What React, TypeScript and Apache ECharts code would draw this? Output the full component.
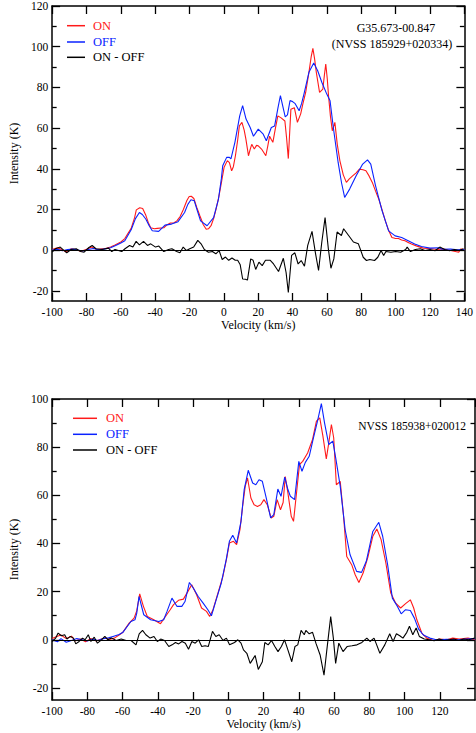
import React, { useEffect, useRef } from "react";
import * as echarts from "echarts";

// ---------------- data (velocity km/s, intensity K) ----------------
const topOn: [number, number][] = [
  [-100, 0.3], [-97, 1.2], [-95, 0.5], [-92, -0.8], [-89, 0.6], [-86, 0.2], [-83, -0.6], [-80, 0.4], [-77, 1.5], [-74, 0.3],
  [-71, 0.6], [-69, 0.8], [-66, 1.5], [-63.4, 2.5], [-60, 4], [-57.7, 5.7], [-54, 10.7], [-52, 16], [-51, 19.8], [-49, 20.8],
  [-47.3, 20.5], [-45.4, 17], [-44, 13.5], [-42.6, 11], [-40.5, 10.5], [-38.8, 10.7], [-35, 11], [-33, 12.5], [-31.2, 13.3],
  [-29, 13.5], [-27.4, 14.4], [-25.5, 16.5], [-23.6, 20], [-21.5, 24.5], [-20.2, 26.4], [-19, 26.5], [-17.5, 25.4], [-15.8, 21],
  [-14, 16.9], [-12, 12.5], [-10.3, 10.3], [-9, 10.5], [-7.5, 12], [-6, 15.5], [-4.6, 20], [-3, 26], [-1.8, 31.6], [0.1, 40.7],
  [2, 44], [3.2, 43], [4.5, 39], [5.5, 41], [6.7, 46.4], [8, 54], [9, 61.1], [10.5, 62.8], [11.8, 59], [12.8, 54.6], [14.3, 46.4],
  [15.3, 49.5], [16.2, 52], [17.7, 49.7], [19, 51.5], [20, 51.3], [21.9, 49.7], [23.2, 48], [24.4, 46.4], [25.5, 51], [26.6, 56],
  [27.5, 54.5], [28.5, 53], [30, 60], [31.4, 66], [33.3, 65], [35.5, 63.5], [36.5, 55], [37.5, 45], [38.3, 58], [39, 69.3],
  [41, 70], [42.8, 62.8], [44.7, 67], [46, 72], [47.6, 77.5], [49.5, 87.4], [50.8, 95], [51.8, 99.2], [52.8, 94], [53.8, 87.4],
  [55.7, 77.5], [57.6, 79.2], [58.5, 86], [59.3, 91.5], [60.2, 84], [60.9, 76], [62, 66], [63.1, 58.7], [64.6, 62.8], [66, 52],
  [67.5, 44], [69.5, 37], [71.3, 33.3], [73, 35], [75.1, 36.6], [77, 38], [78.9, 39.8], [81, 39.5], [82.7, 39], [84.5, 36.5],
  [86.4, 33.3], [88.3, 29], [90.2, 25], [92, 20], [94, 14.4], [96, 9.5], [97.8, 6.2], [99.5, 5.8], [101.6, 5.7], [103.5, 5],
  [105.4, 4.6], [107.3, 3.8], [109.2, 3], [112, 2.1], [116, 1], [120, 0.8], [124, 0.3], [128, 0.6], [132, -0.2], [136.7, -1],
  [138, 0.6], [140, 0.3],
];

const topOff: [number, number][] = [
  [-100, 0], [-97, 0.4], [-94, -0.3], [-91, 0.3], [-88, 0.5], [-85, 0], [-82, -0.4], [-79, 0.3], [-76, 0.8], [-73, 0.2],
  [-70, 0.5], [-66, 1.2], [-63, 2.3], [-60, 3.5], [-57.7, 4.6], [-54, 10], [-51.5, 15.5], [-49.2, 18.5], [-47.5, 17.5],
  [-45.4, 15.2], [-43.5, 12], [-41.7, 9.5], [-38, 9.2], [-34.3, 12.3], [-30.5, 12.8], [-26.7, 14], [-22.9, 18.5], [-21, 22.5],
  [-19.2, 24.8], [-17.3, 24.3], [-15.5, 19.5], [-13.6, 14.4], [-9.8, 12], [-6, 16], [-3.2, 25], [-1.5, 35], [-0.7, 41.5],
  [1.6, 45.6], [3.2, 45.6], [4.1, 44.8], [6.4, 53], [9.2, 66], [10.9, 71], [12.9, 64.4], [15.3, 60.3], [17.2, 56], [20, 59.5],
  [22.9, 57], [24.7, 53.8], [27.6, 60.3], [29.5, 61], [31.5, 70], [32.9, 76], [34.2, 71], [35.7, 65.5], [37, 66.5], [38.5, 73.5],
  [40, 73], [41.5, 72], [43.8, 68.5], [45.2, 72], [46.6, 76.7], [49.5, 87.4], [52.3, 92], [54.6, 88.2], [57, 82.5], [59.9, 76.7],
  [61.8, 73.4], [63.7, 60.3], [66.5, 43.1], [68.5, 33], [70.3, 25.9], [73.2, 30], [77, 36.6], [80.8, 42.3], [83.6, 44.4],
  [85.5, 42.3], [88.3, 31.6], [92.1, 19.3], [95.9, 9.5], [99.7, 7], [103.5, 6.2], [107.3, 4.6], [111.1, 3], [115, 1.8],
  [120, 1], [125, 1.2], [127, 0.4], [132, 0.5], [136, 0.2], [140, 0.3],
];

const topDiff: [number, number][] = [
  [-100, -1], [-98, 0.7], [-95.3, 1.5], [-93, -0.2], [-91.5, -1.3], [-89, 0.3], [-86, 0.7], [-83.5, -0.7], [-81.4, -1],
  [-78.6, 1.3], [-76.7, 2.3], [-74.5, 0.7], [-71, 0.3], [-67.2, 1], [-65.3, -0.7], [-63.4, 0.3], [-59.5, -0.7], [-57.6, 0.7],
  [-54.9, 2.3], [-53, 1.5], [-51.1, 4.3], [-49.2, 2.6], [-46.8, 4.3], [-44.5, 2.3], [-42.6, 3.1], [-39.8, 1.5], [-37.9, 2],
  [-35, -0.7], [-32.2, 0.3], [-30.3, 0.7], [-27.5, -0.7], [-25.6, -1.3], [-23.7, 1.5], [-21.8, -0.2], [-19.9, 0.7], [-17.6, 1.5],
  [-15.2, 4.8], [-13.3, 3.1], [-11.4, 0.3], [-9, -1], [-6.7, -0.7], [-4.7, -1.8], [-2.8, -0.2], [-1, -4.6], [0.9, -3.4],
  [2.8, -5], [4.7, -3.9], [6.6, -5], [8, -5], [9.5, -7.2], [10.9, -14.2], [12.5, -14.3], [13.7, -14.7], [15.6, -4.3], [17, -5],
  [18.5, -9.5], [20.4, -5.9], [22.3, -7.6], [24.2, -5], [27, -5], [28.9, -6.8], [31.8, -10.5], [34.6, -4], [36.2, -11],
  [37.5, -20.8], [39.4, -2.6], [41.3, -1.3], [43.2, -6.8], [45, -5.1], [46.9, -7.9], [48.8, 2.3], [51.3, 9.2], [53.2, -1],
  [55.1, -10], [57, 4], [58.9, 16], [60.8, 0.7], [62.3, -8.9], [64, -4.3], [65.9, 8.9], [68.4, 7.2], [69.7, 10.5], [72.6, 7.2],
  [75.4, 4], [78.3, 3.1], [81.1, -3.5], [83, -5.1], [84.9, -4.6], [87.7, -5.1], [89.6, -3.5], [91.5, -0.2], [93, -2.6],
  [94.3, -0.7], [97.2, -1], [100, -0.7], [102.9, -1], [105.8, 0.3], [106.7, 1.5], [108.6, -0.7], [111.5, 0.3], [114.3, 0.7],
  [117.1, -0.2], [120, 0.3], [122.9, -0.3], [125.7, 1.5], [128.5, 0.3], [131.4, -0.3], [134.2, 0.3], [137, -0.2], [139.5, 0.7],
];

const botOn: [number, number][] = [
  [-100, 0.5], [-97, 1.5], [-95, 2], [-92, 0.5], [-89, 1.5], [-87, -0.5], [-84, 0.3], [-81, -0.8], [-78, 0.5], [-75, -0.5],
  [-72, 0.3], [-70.3, 0.7], [-67, 0.2], [-64.7, 0.7], [-62, 2], [-60, 3], [-56.3, 6.9], [-53.5, 9], [-52, 12], [-50.3, 19.1],
  [-48.2, 13.9], [-46, 9.7], [-42.3, 8.3], [-38.5, 6.7], [-35.7, 9.7], [-33, 12.5], [-31.1, 14.6], [-28.3, 16.4], [-25.5, 16.9],
  [-23, 20], [-20.8, 22.9], [-18, 18.7], [-15.2, 13.2], [-12.4, 11.8], [-10.6, 9.7], [-8.7, 12.5], [-5.9, 19.4], [-3.1, 26.3],
  [-0.9, 34], [0.6, 40.2], [2.9, 40.9], [4.7, 39.5], [6.6, 45.7], [8.1, 55.4], [9.6, 63.8], [10.9, 67.2], [12.8, 58.9],
  [14.6, 56.1], [16.5, 55.4], [18.4, 56.1], [20.2, 58.2], [22.1, 56.1], [24.3, 50.6], [25.8, 51.3], [27.7, 58.2], [29.6, 54],
  [31.1, 57], [32.3, 67.8], [33.8, 61], [35.7, 51.3], [37, 49.2], [38.9, 62.4], [40.4, 72.8], [42.2, 74.1], [45, 77.6],
  [47.8, 83.2], [50, 90.8], [51.9, 92.2], [53.7, 84.5], [55.6, 75.1], [57, 81.8], [58.5, 89.4], [59.8, 83.9], [61.3, 64.4],
  [63.5, 65.8], [65.4, 51.3], [67.2, 34.6], [70, 31.2], [72, 27], [74.1, 23.8], [76.5, 27.7], [79.3, 34.6], [82, 43],
  [84.3, 46], [86.7, 41.6], [89.4, 31.9], [92.2, 19.4], [95, 15.2], [97.8, 13.2], [100.6, 15], [103.3, 16.6], [105.2, 13.2],
  [107, 8.3], [109.8, 2.8], [112.6, 0.7], [116.3, -0.3], [120, 0.3], [124, 0], [127.4, 0.7], [131, 0.3], [136, 0.7], [140, 0],
];

const botOff: [number, number][] = [
  [-100, 0], [-97, -0.8], [-95, 0.5], [-92, -1], [-89, -0.3], [-86, 0.5], [-83, 0], [-80, -0.5], [-77, 0.3], [-74, -0.3],
  [-71, 0.5], [-68, 0.8], [-65, 1.5], [-62, 2.2], [-60, 3], [-55.3, 7.6], [-53, 8.3], [-52, 11], [-50.7, 18], [-48, 10.4],
  [-44.1, 8.3], [-39.5, 7.6], [-36.7, 8.3], [-34.8, 11.8], [-32, 17.3], [-29.2, 13.9], [-26.4, 13.9], [-24.6, 15.9],
  [-22.1, 23.8], [-19.9, 21.5], [-17.1, 18], [-14.3, 15.2], [-11.6, 12.5], [-9.6, 10], [-6.9, 16.6], [-4, 23.6], [-1.2, 33.3],
  [0.6, 40.9], [2.5, 43.4], [4.7, 40.2], [7.2, 49.2], [9, 62.4], [11.3, 70.4], [13.8, 65.1], [15.6, 64.4], [17.4, 66.5],
  [19.3, 65.8], [21.5, 58.9], [24, 50.6], [25.8, 52], [28.1, 62.6], [29.9, 59.6], [32, 67.6], [33.8, 62.4], [35.2, 59.6],
  [37.6, 58.2], [40, 74.1], [41.8, 70], [43.7, 73.7], [45.9, 76.2], [48.1, 83.2], [50.6, 90.8], [52.8, 98.1], [54.6, 90.1],
  [57, 81.1], [59.3, 82.5], [61.1, 74.8], [63.5, 63.8], [66.3, 45.7], [69.1, 35.3], [72.8, 28.4], [75.6, 28], [78.3, 32.6],
  [82, 45], [85.4, 48.8], [87.6, 43], [90.4, 31.2], [93.1, 17.3], [95.9, 13.9], [98.1, 10.8], [100.6, 12.5], [103.3, 12.2],
  [105.6, 9], [108, 4.4], [110.7, 2], [114.4, 0.7], [118, 0], [124, 0.2], [130, 0], [135, 0.3], [140, 0.5],
];

const botDiff: [number, number][] = [
  [-100, -0.7], [-98, 0.7], [-96.6, 2.8], [-94.8, 1.7], [-92.9, 2.1], [-91.6, 0.3], [-89.7, 1.4], [-87.9, 0.7], [-86.6, -1.7],
  [-84.7, -0.7], [-82.8, 0.7], [-81.3, 0], [-79.5, 2.1], [-78, -0.7], [-76.1, 1.1], [-74.3, -1.4], [-72, 0], [-70.1, 1.4],
  [-68.3, 0], [-66.4, 0.7], [-63.6, -0.3], [-60.8, 0.3], [-58, -0.3], [-55.2, -0.3], [-52.4, -2.1], [-50.6, 2.5], [-48.7, 3.9],
  [-46.8, 2.1], [-44.4, 0.7], [-42.2, 1.4], [-40.3, -0.7], [-38.4, 0.3], [-36.2, -0.3], [-33.8, -2.8], [-31.9, -2.1], [-30, -1.1],
  [-28.2, -1.7], [-26.3, -0.7], [-24.4, -1.4], [-22.6, -3.9], [-20.7, -0.7], [-18.8, -1.4], [-16.9, 0], [-15.1, -2.8],
  [-13.2, -2.5], [-11.4, -2.8], [-9, 3.5], [-7.1, 1.4], [-5.2, 2.1], [-3, -0.3], [-1.1, 0.7], [0.7, -2.1], [3.5, -1.1],
  [5.4, 0], [7.2, -1.4], [8.6, -4.2], [10.5, -5.6], [12.4, -9.8], [14.2, -7.7], [15.2, -6.5], [17, -12.3], [19.3, -9.1],
  [20.7, -1.1], [22.6, -2.1], [24.5, -0.3], [26.4, -2.8], [28.2, -4.9], [30.1, -2.8], [31.9, 0], [33.8, -4.2], [36, -9.1],
  [37.8, -2.8], [39.4, -2.1], [41.3, 3.9], [43.1, 2.1], [44, 3.9], [45.9, 2.5], [47.8, 3.1], [49.7, -1.4], [52.1, -6.3],
  [54.3, -14.7], [55.8, -4.9], [58.1, 9.6], [59.6, 0.7], [60.9, -9.8], [62.7, -1.4], [65.1, -4.9], [67.4, -2.8], [70.2, -2.5],
  [73, -2.1], [75.8, -1.1], [78.6, 0.7], [80.4, -0.7], [82.7, 0.7], [84.2, -2.1], [86, -5.6], [88.8, -2.1], [91.6, 2.5],
  [93.5, -0.7], [95.4, 2.5], [97.3, 1.7], [99.1, 0.7], [101.3, 3.1], [102.8, 5.6], [104.7, 2.1], [106.6, 4.9], [108.4, 1.4],
  [111.2, 0.3], [114, 0], [116.8, -0.4], [119.6, 0.3], [122.4, -0.3], [125.2, 0], [128, 0.3], [130.8, -0.3], [133.6, 0.3],
  [136.4, 0], [139.8, 0.7],
];

const topMajorTicks = [-20, 0, 20, 40, 60, 80, 100, 120];
const topMinorTicks = [-10, 10, 30, 50, 70, 90, 110];
const botMajorTicks = [-20, 0, 20, 40, 60, 80, 100];
const botMinorTicks = [-10, 10, 30, 50, 70, 90];

const seriesNames = ["ON", "OFF", "ON - OFF"];
const topLabel = ["G35.673-00.847", "(NVSS 185929+020334)"];
const botLabel = "NVSS 185938+020012";

// ---------------- styling ----------------
const FONT = "Liberation Serif";
const RED = "#ff1a1a";
const BLUE = "#0a22ff";
const BLACK = "#000000";
const COLORS = [RED, BLUE, BLACK];

function xAxes(grid: number, hideMax: boolean) {
  const base = {
    type: "value" as const,
    gridIndex: grid,
    min: -100,
    max: 140,
    interval: 20,
    splitLine: { show: false },
    axisLine: { show: true, onZero: false, lineStyle: { color: BLACK, width: 1.5 } },
    axisTick: { show: true, inside: true, length: 8, lineStyle: { color: BLACK, width: 1.3 } },
  };
  return [
    {
      ...base,
      position: "bottom",
      name: "Velocity (km/s)",
      nameLocation: "middle",
      nameGap: grid === 0 ? 16 : 17,
      nameTextStyle: { fontFamily: FONT, fontSize: 12, color: BLACK },
      axisLabel: { show: true, fontFamily: FONT, fontSize: 11.5, color: BLACK, margin: 5, showMaxLabel: !hideMax },
    },
    { ...base, position: "top", axisLabel: { show: false } },
  ];
}

function yAxes(grid: number, max: number, major: number[], minor: number[]) {
  const base = {
    type: "value" as const,
    gridIndex: grid,
    min: -25,
    max,
    splitLine: { show: false },
  };
  const majorTick = { show: true, inside: true, length: 8, customValues: major, lineStyle: { color: BLACK, width: 1.3 } };
  const minorTick = { show: true, inside: true, length: 4.5, customValues: minor, lineStyle: { color: BLACK, width: 1.3 } };
  return [
    {
      ...base,
      position: "left",
      axisLine: { show: true, onZero: false, lineStyle: { color: BLACK, width: 1.5 } },
      axisTick: majorTick,
      axisLabel: { show: true, customValues: major, fontFamily: FONT, fontSize: 11.5, color: BLACK, margin: 4 },
      name: "Intensity (K)",
      nameLocation: "middle",
      nameGap: 27,
      nameTextStyle: { fontFamily: FONT, fontSize: 12, color: BLACK },
    },
    { ...base, position: "left", axisLine: { show: false, onZero: false }, axisTick: minorTick, axisLabel: { show: false } },
    {
      ...base,
      position: "right",
      axisLine: { show: true, onZero: false, lineStyle: { color: BLACK, width: 1.5 } },
      axisTick: majorTick,
      axisLabel: { show: false },
    },
    { ...base, position: "right", axisLine: { show: false, onZero: false }, axisTick: minorTick, axisLabel: { show: false } },
  ];
}

function lineSeries(name: string, data: [number, number][], color: string, xi: number, yi: number, width: number, zero: boolean) {
  const s: any = {
    type: "line",
    name,
    data,
    xAxisIndex: xi,
    yAxisIndex: yi,
    showSymbol: false,
    symbol: "none",
    lineStyle: { color, width },
    itemStyle: { color },
    silent: true,
  };
  if (zero) {
    s.markLine = {
      silent: true,
      symbol: ["none", "none"],
      label: { show: false },
      lineStyle: { color: BLACK, width: 1.2, type: "solid" },
      data: [{ yAxis: 0 }],
    };
  }
  return s;
}

function legendGraphics(x1: number, x2: number, tx: number, ys: number[]) {
  const els: any[] = [];
  seriesNames.forEach((n, i) => {
    els.push({
      type: "line",
      shape: { x1, y1: ys[i], x2, y2: ys[i] },
      style: { stroke: COLORS[i], lineWidth: 1.5 },
      silent: true,
    });
    els.push({
      type: "text",
      x: tx,
      y: ys[i],
      style: { text: n, fill: COLORS[i], fontFamily: FONT, fontSize: 12.5, verticalAlign: "middle" },
      silent: true,
    });
  });
  return els;
}

export default function App() {
  const ref = useRef<HTMLDivElement>(null);
  useEffect(() => {
    if (!ref.current) return;
    const chart = echarts.init(ref.current, undefined, { renderer: "svg" });
    const option: any = {
      animation: false,
      backgroundColor: "#ffffff",
      textStyle: { fontFamily: FONT },
      grid: [
        { left: 46, top: 6, width: 421, height: 295, containLabel: false },
        { left: 47, top: 399, width: 428, height: 301, containLabel: false },
      ],
      xAxis: [...xAxes(0, false), ...xAxes(1, true)],
      yAxis: [...yAxes(0, 120, topMajorTicks, topMinorTicks), ...yAxes(1, 100, botMajorTicks, botMinorTicks)],
      series: [
        lineSeries(seriesNames[0], topOn, RED, 0, 0, 1.1, false),
        lineSeries(seriesNames[1], topOff, BLUE, 0, 0, 1.1, false),
        lineSeries(seriesNames[2], topDiff, BLACK, 0, 0, 1.1, true),
        lineSeries(seriesNames[0], botOn, RED, 2, 4, 1.1, false),
        lineSeries(seriesNames[1], botOff, BLUE, 2, 4, 1.1, false),
        lineSeries(seriesNames[2], botDiff, BLACK, 2, 4, 1.1, true),
      ],
      graphic: [
        ...legendGraphics(67, 85, 93, [25.7, 42, 57.3]),
        ...legendGraphics(73, 97, 106, [418.3, 434.3, 450]),
        {
          type: "text",
          x: 396,
          y: 27.5,
          style: { text: topLabel[0], fill: BLACK, fontFamily: FONT, fontSize: 12, align: "center", verticalAlign: "middle" },
          silent: true,
        },
        {
          type: "text",
          x: 392,
          y: 43.5,
          style: { text: topLabel[1], fill: BLACK, fontFamily: FONT, fontSize: 12, align: "center", verticalAlign: "middle" },
          silent: true,
        },
        {
          type: "text",
          x: 466,
          y: 426,
          style: { text: botLabel, fill: BLACK, fontFamily: FONT, fontSize: 11.5, align: "right", verticalAlign: "middle" },
          silent: true,
        },
      ],
    };
    chart.setOption(option);
    return () => chart.dispose();
  }, []);
  return (
    <div
      ref={ref}
      style={{ position: "absolute", left: 0, top: 0, width: 476, height: 733, background: "#fff" }}
    />
  );
}
